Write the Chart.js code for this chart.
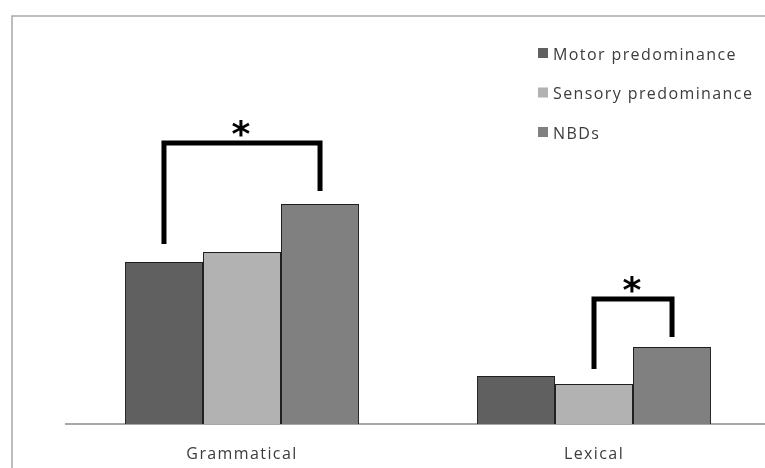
<!DOCTYPE html>
<html>
<head>
<meta charset="utf-8">
<script src="https://cdn.jsdelivr.net/npm/chart.js@4"></script>
<style>
  html, body { margin: 0; padding: 0; background: #fff; overflow: hidden; }
  #wrap { width: 775px; height: 468px; }
</style>
</head>
<body>
<div id="wrap"><canvas id="chart" width="775" height="468"></canvas></div>
<script>
const categories = ["Grammatical", "Lexical"];
const groupNames = ["Motor predominance", "Sensory predominance", "NBDs"];
const motor = [1.62, 0.48];
const sensory = [1.72, 0.40];
const nbds = [2.20, 0.77];
const colors = ["#606060", "#b2b2b2", "#808080"];

// significance brackets: category, from bar, to bar, top, left leg end, right leg end
const brackets = [
  { cat: 0, from: 0, to: 2, top: 2.81, leftEnd: 1.80, rightEnd: 2.33 },
  { cat: 1, from: 1, to: 2, top: 1.25, leftEnd: 0.55, rightEnd: 0.87 }
];

const textColor = "#3c3c3c";
const font = "'Open Sans', 'DejaVu Sans', sans-serif";
const spacing = "1.4px";

const frame = {
  id: "frame",
  beforeDraw(chart) {
    const ctx = chart.ctx;
    ctx.letterSpacing = spacing;
    ctx.save();
    ctx.strokeStyle = "#a8a8a8";
    ctx.lineWidth = 1.5;
    ctx.beginPath();
    ctx.moveTo(12, chart.height);
    ctx.lineTo(12, 16);
    ctx.lineTo(chart.width, 16);
    ctx.stroke();
    ctx.restore();
  }
};

const extras = {
  id: "extras",
  afterDraw(chart) {
    const ctx = chart.ctx;
    const y = chart.scales.y;
    ctx.save();

    // brackets
    brackets.forEach(b => {
      const x1 = chart.getDatasetMeta(b.from).data[b.cat].x;
      const x2 = chart.getDatasetMeta(b.to).data[b.cat].x;
      const top = y.getPixelForValue(b.top);
      ctx.strokeStyle = "#000";
      ctx.lineWidth = 5;
      ctx.lineJoin = "miter";
      ctx.beginPath();
      ctx.moveTo(x1, y.getPixelForValue(b.leftEnd));
      ctx.lineTo(x1, top);
      ctx.lineTo(x2, top);
      ctx.lineTo(x2, y.getPixelForValue(b.rightEnd));
      ctx.stroke();
      ctx.fillStyle = "#000";
      ctx.letterSpacing = "0px";
      ctx.font = "bold 36px 'DejaVu Sans'";
      ctx.textAlign = "center";
      ctx.textBaseline = "alphabetic";
      ctx.fillText("*", (x1 + x2) / 2 - 1, top + 3);
    });

    // legend
    const lx = 538, ly = 54, gap = 39.5;
    ctx.letterSpacing = spacing;
    chart.data.datasets.forEach((ds, i) => {
      ctx.fillStyle = ds.backgroundColor;
      ctx.fillRect(lx, ly + i * gap - 6, 10, 10);
      ctx.fillStyle = textColor;
      ctx.font = "16px " + font;
      ctx.textAlign = "left";
      ctx.textBaseline = "middle";
      ctx.fillText(ds.label, lx + 15, ly + i * gap + 1);
    });
    ctx.restore();
  }
};

new Chart(document.getElementById("chart"), {
  type: "bar",
  data: {
    labels: categories,
    datasets: [motor, sensory, nbds].map((d, i) => ({
      label: groupNames[i],
      data: d,
      backgroundColor: colors[i],
      borderColor: "#1e1e1e",
      borderWidth: 1,
      categoryPercentage: 0.665,
      barPercentage: 1.0
    }))
  },
  options: {
    responsive: false,
    animation: false,
    layout: { padding: { left: 66, right: 5, top: 24, bottom: 0 } },
    plugins: { legend: { display: false }, tooltip: { enabled: false } },
    scales: {
      x: {
        grid: { display: false, drawTicks: false },
        border: { display: true, color: "#a8a8a8", width: 2 },
        ticks: { color: textColor, font: { family: font, size: 16 }, padding: 21 },
        afterFit(scale) { scale.height = 44; }
      },
      y: {
        display: false,
        min: 0,
        max: 4
      }
    }
  },
  plugins: [frame, extras]
});
</script>
</body>
</html>
